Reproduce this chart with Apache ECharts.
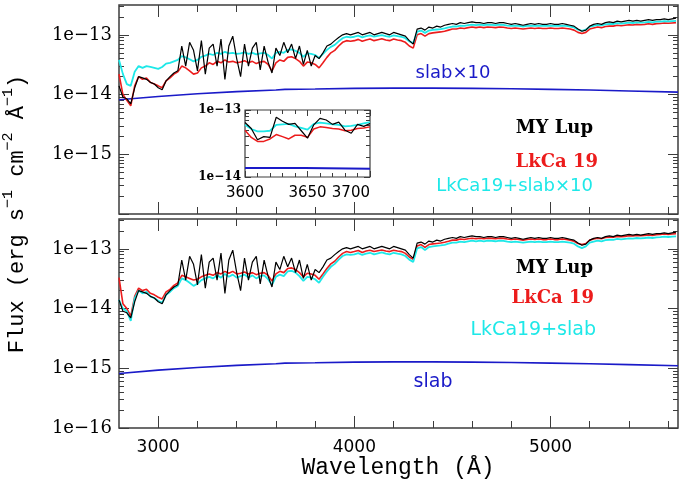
<!DOCTYPE html>
<html>
<head>
<meta charset="utf-8">
<script src="https://cdn.jsdelivr.net/npm/echarts@6/dist/echarts.min.js"></script>
<style>
  html, body { margin: 0; padding: 0; background: #fff; }
  #chart { width: 685px; height: 481px; }
</style>
</head>
<body>
<div id="chart"></div>
<script>
// flux arrays are in units of 1e-14 erg s-1 cm-2 A-1
const UNIT = 1e-14;

const wave = [
  2800, 2820, 2840, 2860, 2880, 2900, 2920, 2940, 2960, 2980,
  3000, 3020, 3040, 3060, 3080, 3100, 3120, 3140, 3160, 3180,
  3200, 3220, 3240, 3260, 3280, 3300, 3320, 3340, 3360, 3380,
  3400, 3420, 3440, 3460, 3480, 3500, 3520, 3540, 3560, 3580,
  3600, 3620, 3640, 3660, 3680, 3700, 3720, 3740, 3760, 3780,
  3800, 3820, 3840, 3860, 3880, 3900, 3920, 3940, 3960, 3980,
  4000, 4020, 4040, 4060, 4080, 4100, 4120, 4140, 4160, 4180,
  4200, 4220, 4240, 4260, 4280, 4300, 4320, 4340, 4360, 4380,
  4400, 4420, 4440, 4460, 4480, 4500, 4520, 4540, 4560, 4580,
  4600, 4620, 4640, 4660, 4680, 4700, 4720, 4740, 4760, 4780,
  4800, 4820, 4840, 4860, 4880, 4900, 4920, 4940, 4960, 4980,
  5000, 5020, 5040, 5060, 5080, 5100, 5120, 5140, 5160, 5180,
  5200, 5220, 5240, 5260, 5280, 5300, 5320, 5340, 5360, 5380,
  5400, 5420, 5440, 5460, 5480, 5500, 5520, 5540, 5560, 5580,
  5600, 5620, 5640
];

const myLup = [
  1.4, 0.9, 0.85, 0.7, 1.3, 2.0, 1.9, 1.8, 1.6, 1.5,
  1.3, 1.2, 1.7, 2.0, 2.3, 2.5, 6.5, 3.0, 7.5, 5.5,
  2.5, 8.0, 2.2, 6.0, 7.0, 3.0, 8.5, 1.8, 6.5, 9.5,
  4.0, 2.0, 7.0, 3.0, 6.0, 7.5, 2.6, 6.5, 3.5, 2.3,
  6.0, 4.5, 7.5, 5.0, 7.0, 4.0, 6.5, 3.2, 5.5, 3.0,
  4.5, 4.0, 5.0, 6.5, 7.0, 8.0, 9.0, 10.0, 10.5, 10.0,
  10.5, 11.0, 10.0, 10.5, 11.0, 10.0, 10.5, 11.0, 10.5, 10.0,
  11.0, 10.5, 10.0, 9.5, 8.0, 7.0, 12.5, 13.0, 12.0, 13.5,
  13.0, 14.0, 13.5, 14.5, 15.0, 15.5, 15.0, 16.0, 15.5, 16.0,
  16.5, 16.0, 16.0, 15.5, 16.0, 16.0, 15.5, 16.0, 16.0, 15.5,
  15.0, 15.5, 15.0, 14.5, 15.0, 15.5, 15.0, 15.5, 15.0, 15.0,
  15.5, 15.0, 15.0, 15.5, 15.0, 14.5, 14.0, 12.5, 11.5, 12.0,
  14.0, 15.0, 15.5, 15.0, 16.0, 16.5, 16.0, 17.0, 16.5, 17.0,
  17.5, 17.0, 17.5, 17.0, 17.5, 18.0, 17.5, 18.0, 18.0, 18.5,
  18.0, 18.5, 19.0
];

const lkca19Top = [
  2.2, 1.0, 0.8, 0.65, 1.4, 2.0, 1.8, 1.9, 1.6, 1.5,
  1.4, 1.3, 1.7, 1.9, 2.2, 2.4, 3.0, 2.8, 2.5, 2.2,
  2.3, 2.8, 3.0, 3.4, 3.2, 3.6, 3.4, 3.8, 3.5, 3.6,
  3.4, 3.5, 3.7, 3.4, 3.6, 3.3, 3.5, 3.6, 3.2, 2.5,
  3.4, 3.8, 3.6, 4.2, 4.3, 4.0, 3.6, 3.0, 3.5, 3.4,
  3.2, 2.8, 3.4, 4.2, 5.0, 5.5, 6.5, 7.5, 8.0, 7.8,
  8.0, 8.4, 7.8, 8.2, 8.5, 8.0, 8.3, 8.6, 8.2, 8.0,
  8.5, 8.2, 8.0, 7.5, 6.5, 6.0, 10.0, 10.5, 9.5, 10.5,
  10.8, 11.0, 11.2, 11.5, 12.0, 12.5, 12.5, 13.0, 12.8, 13.2,
  13.5, 13.2, 13.5, 13.2, 13.5, 13.4, 13.2, 13.5, 13.4, 13.0,
  12.8, 13.0, 12.8, 12.5, 12.8, 13.0, 12.8, 13.0, 12.8, 12.8,
  13.0, 12.8, 12.8, 13.0, 12.8, 12.5, 12.0, 11.0, 10.5, 11.0,
  12.5, 13.0, 13.5, 13.2, 13.8, 14.0, 14.0, 14.5, 14.2, 14.5,
  14.8, 14.6, 15.0, 14.8, 15.0, 15.3, 15.0, 15.4, 15.5, 15.8,
  15.6, 15.8, 16.0
];

const lkcaSlab10 = [
  3.8, 2.2, 1.5, 1.4, 2.4, 3.0, 2.8, 3.0, 2.9, 2.8,
  2.7, 2.9, 3.3, 3.4, 3.6, 3.8, 4.4, 4.2, 3.9, 3.6,
  3.8, 4.3, 4.5, 4.8, 4.6, 5.0, 4.8, 5.2, 4.9, 5.0,
  4.8, 4.9, 5.1, 4.8, 5.0, 4.7, 4.9, 5.0, 4.6, 4.0,
  5.0, 5.2, 5.0, 5.6, 5.7, 5.4, 5.0, 4.3, 4.9, 4.8,
  4.6, 4.1, 4.8, 5.6, 6.3, 6.8, 7.8, 8.8, 9.3, 9.1,
  9.3, 9.7, 9.1, 9.5, 9.8, 9.3, 9.6, 9.9, 9.5, 9.3,
  9.8, 9.5, 9.3, 8.8, 7.8, 7.3, 11.3, 11.8, 10.8, 11.8,
  12.1, 12.3, 12.5, 12.8, 13.3, 13.8, 13.8, 14.3, 14.1, 14.5,
  14.8, 14.5, 14.8, 14.5, 14.8, 14.7, 14.5, 14.8, 14.7, 14.3,
  14.1, 14.3, 14.1, 13.8, 14.1, 14.3, 14.1, 14.3, 14.1, 14.1,
  14.3, 14.1, 14.1, 14.3, 14.1, 13.8, 13.3, 12.2, 11.7, 12.2,
  13.7, 14.2, 14.7, 14.4, 15.0, 15.2, 15.2, 15.7, 15.4, 15.7,
  16.0, 15.8, 16.2, 16.0, 16.2, 16.5, 16.2, 16.6, 16.7, 17.0,
  16.8, 17.0, 17.2
];

const lkca19Bot = [
  3.3, 1.2, 1.0, 0.75, 1.6, 2.2, 2.0, 2.1, 1.8, 1.7,
  1.55, 1.45, 1.9, 2.1, 2.45, 2.7, 3.6, 3.4, 3.2, 3.0,
  3.1, 3.4, 3.6, 3.8, 3.6, 4.0, 3.8, 4.2, 3.9, 4.2,
  3.8, 3.9, 4.1, 3.8, 4.0, 3.7, 3.9, 4.0, 3.6, 2.9,
  3.8, 4.2, 4.0, 4.7, 4.8, 4.5, 4.0, 3.4, 3.9, 3.8,
  3.6, 3.1, 3.8, 4.7, 5.6, 6.2, 7.3, 8.4, 9.0, 8.7,
  9.0, 9.4, 8.7, 9.2, 9.5, 9.0, 9.3, 9.6, 9.2, 9.0,
  9.5, 9.2, 9.0, 8.4, 7.3, 6.7, 11.2, 11.8, 10.6, 11.8,
  12.1, 12.3, 12.5, 12.9, 13.4, 14.0, 14.0, 14.6, 14.3, 14.8,
  15.1, 14.8, 15.1, 14.8, 15.1, 15.0, 14.8, 15.1, 15.0, 14.6,
  14.3, 14.6, 14.3, 14.0, 14.3, 14.6, 14.3, 14.6, 14.3, 14.3,
  14.6, 14.3, 14.3, 14.6, 14.3, 14.0, 13.4, 12.3, 11.8, 12.3,
  14.0, 14.6, 15.1, 14.8, 15.5, 15.7, 15.7, 16.2, 15.9, 16.2,
  16.6, 16.4, 16.8, 16.6, 16.8, 17.1, 16.8, 17.2, 17.4, 17.7,
  17.5, 17.7, 17.9
];

const lkcaSlab = [
  1.4, 1.0, 0.9, 0.62, 1.5, 2.0, 1.8, 1.9, 1.6, 1.5,
  1.35, 1.25, 1.7, 1.9, 2.2, 2.4, 3.2, 3.0, 2.7, 2.4,
  2.6, 3.0, 3.2, 3.4, 3.2, 3.6, 3.3, 3.8, 3.4, 3.7,
  3.3, 3.5, 3.7, 3.3, 3.6, 3.2, 3.5, 3.6, 3.1, 2.5,
  3.4, 3.7, 3.5, 4.2, 4.3, 4.0, 3.5, 2.9, 3.4, 3.3,
  3.1, 2.7, 3.4, 4.2, 5.0, 5.6, 6.6, 7.6, 8.1, 7.9,
  8.1, 8.5, 7.9, 8.3, 8.6, 8.1, 8.4, 8.7, 8.3, 8.1,
  8.6, 8.3, 8.1, 7.6, 6.6, 6.0, 10.2, 10.7, 9.6, 10.7,
  11.0, 11.2, 11.4, 11.7, 12.2, 12.7, 12.7, 13.2, 13.0, 13.4,
  13.7, 13.4, 13.7, 13.4, 13.7, 13.6, 13.4, 13.7, 13.6, 13.2,
  13.0, 13.2, 13.0, 12.7, 13.0, 13.2, 13.0, 13.2, 13.0, 13.0,
  13.2, 13.0, 13.0, 13.2, 13.0, 12.7, 12.2, 11.0, 10.3, 11.0,
  12.7, 13.2, 13.7, 13.4, 14.0, 14.2, 14.2, 14.7, 14.4, 14.7,
  15.0, 14.8, 15.2, 15.0, 15.2, 15.5, 15.2, 15.6, 15.7, 16.0,
  15.8, 16.0, 16.2
];

const slabWave = [2800, 3000, 3200, 3400, 3600, 3646, 3648, 3800, 4000, 4200, 4400, 4600, 4800, 5000, 5200, 5400, 5650];
const slab10 = [0.82, 0.93, 1.03, 1.12, 1.19, 1.22, 1.20, 1.24, 1.27, 1.28, 1.28, 1.27, 1.25, 1.22, 1.19, 1.15, 1.10];
const slab = [0.082, 0.093, 0.103, 0.112, 0.119, 0.122, 0.120, 0.124, 0.127, 0.128, 0.128, 0.127, 0.125, 0.122, 0.119, 0.115, 0.110];

// inset, 3600-3700 A
const insetWave = [3600, 3605, 3610, 3615, 3620, 3625, 3630, 3635, 3640, 3645, 3650,
                   3655, 3660, 3665, 3670, 3675, 3680, 3685, 3690, 3695, 3700];
const insetMyLup = [6.5, 5.3, 3.6, 4.0, 3.9, 7.8, 6.8, 6.1, 6.3, 4.9, 3.8,
                    6.0, 7.5, 7.1, 6.1, 6.6, 5.0, 4.5, 6.1, 5.7, 6.3];
const insetLkca = [5.0, 3.9, 3.4, 3.4, 3.7, 4.3, 4.0, 3.7, 4.2, 4.2, 3.9,
                   5.2, 5.6, 5.5, 5.3, 5.2, 4.9, 5.0, 5.3, 5.4, 5.6];
const insetLkcaSlab10 = [6.0, 5.2, 4.8, 4.8, 4.9, 6.0, 6.1, 6.2, 5.7, 5.4, 5.1,
                         6.2, 6.5, 6.3, 6.1, 6.0, 5.7, 5.8, 6.0, 6.3, 6.6];
const insetSlabWave = [3600, 3648, 3649, 3700];
const insetSlab10 = [1.36, 1.36, 1.33, 1.33];

// ticks and labels
const xMajorTicks = [3000, 4000, 5000];
const xMinorTicks = [3200, 3400, 3600, 3800, 4200, 4400, 4600, 4800, 5200, 5400, 5600];
const yLabelsTop = [1e-15, 1e-14, 1e-13];
const yLabelsBottom = [1e-16, 1e-15, 1e-14, 1e-13];
const yDecades = [1e-16, 1e-15, 1e-14, 1e-13];
const yMantissas = [2, 3, 4, 5, 6, 7, 8, 9];
const insetXMajor = [3600, 3650, 3700];
const insetXMinor = [3610, 3620, 3630, 3640, 3660, 3670, 3680, 3690];
const insetYLabels = [1e-14, 1e-13];
const insetYMinor = [2e-14, 3e-14, 4e-14, 5e-14, 6e-14, 7e-14, 8e-14, 9e-14];

const X_MIN = 2800, X_MAX = 5650;
const Y_MIN = 1e-16, Y_MAX = 3.1623e-13;

const yMinorTicks = [];
yDecades.forEach(d => yMantissas.forEach(m => { if (m * d < Y_MAX) yMinorTicks.push(m * d); }));

const C = {
  black: '#000000', red: '#ec1c1c', cyan: '#1ee8e8', blue: '#1a1ac8', frame: '#3c3c3c'
};
const MONO = '"Liberation Mono", "DejaVu Sans Mono", monospace';
const SANS = '"DejaVu Sans", sans-serif';
const SERIF = '"DejaVu Serif", serif';

const expLabel = v => '1e\u2212' + Math.round(-Math.log10(v));
const plainNum = v => String(v);

const xAxes = [];
const yAxes = [];

function addX(grid, min, max, pos, ticks, len, labels, labelStyle) {
  xAxes.push({
    type: 'value', gridIndex: grid, min: min, max: max, position: pos,
    axisLine: { show: false },
    axisTick: { show: true, inside: true, length: len, customValues: ticks,
                lineStyle: { color: C.frame, width: 1 } },
    axisLabel: labels ? Object.assign({ show: true, customValues: labels, formatter: plainNum,
                                        showMinLabel: true, showMaxLabel: true }, labelStyle)
                      : { show: false },
    splitLine: { show: false }
  });
  return xAxes.length - 1;
}

function addY(grid, min, max, pos, ticks, len, labels, labelStyle) {
  yAxes.push({
    type: 'log', logBase: 10, gridIndex: grid, min: min, max: max, position: pos,
    axisLine: { show: false },
    axisTick: { show: true, inside: true, length: len, customValues: ticks,
                lineStyle: { color: C.frame, width: 1 } },
    axisLabel: labels ? Object.assign({ show: true, customValues: labels, formatter: expLabel,
                                        showMinLabel: true, showMaxLabel: true }, labelStyle)
                      : { show: false },
    splitLine: { show: false }
  });
  return yAxes.length - 1;
}

const xLabelStyle = { fontFamily: SANS, fontSize: 17, color: '#000', margin: 11 };
const yLabelStyle = { fontFamily: SERIF, fontSize: 18, color: '#000', margin: 7 };

// top panel (0), bottom panel (1)
const px = [], py = [];
[0, 1].forEach(g => {
  px[g] = addX(g, X_MIN, X_MAX, 'bottom', xMajorTicks, 12, g === 1 ? xMajorTicks : null, xLabelStyle);
  addX(g, X_MIN, X_MAX, 'bottom', xMinorTicks, 7, null);
  addX(g, X_MIN, X_MAX, 'top', xMajorTicks, 12, null);
  addX(g, X_MIN, X_MAX, 'top', xMinorTicks, 7, null);
  py[g] = addY(g, Y_MIN, Y_MAX, 'left', yDecades, 10, g === 1 ? yLabelsBottom : yLabelsTop, yLabelStyle);
  addY(g, Y_MIN, Y_MAX, 'left', yMinorTicks, 5, null);
  addY(g, Y_MIN, Y_MAX, 'right', yDecades, 10, null);
  addY(g, Y_MIN, Y_MAX, 'right', yMinorTicks, 5, null);
});

// inset (2)
px[2] = addX(2, 3600, 3700, 'bottom', insetXMajor, 6, insetXMajor,
  { fontFamily: SANS, fontSize: 15, color: '#000', margin: 9, alignMaxLabel: 'right' });
addX(2, 3600, 3700, 'bottom', insetXMinor, 4, null);
addX(2, 3600, 3700, 'top', insetXMajor, 6, null);
addX(2, 3600, 3700, 'top', insetXMinor, 4, null);
py[2] = addY(2, 1e-14, 1e-13, 'left', insetYLabels, 6, insetYLabels,
  { fontFamily: SERIF, fontSize: 12, fontWeight: 'bold', color: '#000', margin: 4 });
addY(2, 1e-14, 1e-13, 'left', insetYMinor, 4, null);
addY(2, 1e-14, 1e-13, 'right', insetYLabels, 6, null);
addY(2, 1e-14, 1e-13, 'right', insetYMinor, 4, null);

function line(g, xs, ys, color, width) {
  return {
    type: 'line', xAxisIndex: px[g], yAxisIndex: py[g],
    data: xs.map((w, i) => [w, ys[i] * UNIT]),
    showSymbol: false, symbol: 'none', silent: true,
    lineStyle: { color: color, width: width }
  };
}

function label(text, x, y, color, font, align) {
  return {
    type: 'text', x: x, y: y, silent: true,
    style: { text: text, fill: color, font: font, align: align || 'right', verticalAlign: 'middle' }
  };
}

const serifBold = 'bold 18px ' + SERIF;
const sansLab = '18px ' + SANS;

const chart = echarts.init(document.getElementById('chart'), null, { renderer: 'canvas' });
chart.setOption({
  animation: false,
  backgroundColor: '#fff',
  grid: [
    { left: 119, top: 5, width: 559, height: 209, show: true, borderColor: C.frame, borderWidth: 1.5, backgroundColor: '#fff' },
    { left: 119, top: 219, width: 559, height: 209, show: true, borderColor: C.frame, borderWidth: 1.5, backgroundColor: '#fff' },
    { left: 245, top: 110, width: 125, height: 67, show: true, borderColor: C.frame, borderWidth: 1.2, backgroundColor: '#fff' }
  ],
  xAxis: xAxes,
  yAxis: yAxes,
  series: [
    line(0, slabWave, slab10, C.blue, 1.6),
    line(0, wave, lkca19Top, C.red, 1.6),
    line(0, wave, lkcaSlab10, C.cyan, 1.8),
    line(0, wave, myLup, C.black, 1.2),
    line(1, slabWave, slab, C.blue, 1.6),
    line(1, wave, lkca19Bot, C.red, 1.6),
    line(1, wave, lkcaSlab, C.cyan, 1.8),
    line(1, wave, myLup, C.black, 1.2),
    line(2, insetSlabWave, insetSlab10, C.blue, 2),
    line(2, insetWave, insetLkca, C.red, 1.5),
    line(2, insetWave, insetLkcaSlab10, C.cyan, 1.8),
    line(2, insetWave, insetMyLup, C.black, 1.2)
  ],
  graphic: [
    label('slab\u00d710', 453, 73, C.blue, sansLab, 'center'),
    label('MY Lup', 593, 128, C.black, serifBold),
    label('LkCa 19', 598, 162, C.red, serifBold),
    label('LkCa19+slab\u00d710', 593, 186, C.cyan, sansLab),
    label('MY Lup', 593, 268, C.black, serifBold),
    label('LkCa 19', 594, 298, C.red, serifBold),
    label('LkCa19+slab', 596, 330, C.cyan, '19px ' + SANS),
    label('slab', 433, 382, C.blue, '19px ' + SANS, 'center'),
    label('Wavelength (\u00c5)', 398, 468, '#000', '23px ' + MONO, 'center'),
    {
      type: 'text', x: 17, y: 214, rotation: Math.PI / 2, silent: true,
      style: {
        text: '{a|Flux (erg s}{s|\u22121}{a| cm}{s|\u22122}{a| \u00c5}{s|\u22121}{a|)}',
        align: 'center', verticalAlign: 'middle', fill: '#000',
        rich: {
          a: { fontFamily: MONO, fontSize: 22, lineHeight: 32, fill: '#000' },
          s: { fontFamily: MONO, fontSize: 15, verticalAlign: 'top', fill: '#000' }
        }
      }
    }
  ]
});
</script>
</body>
</html>
